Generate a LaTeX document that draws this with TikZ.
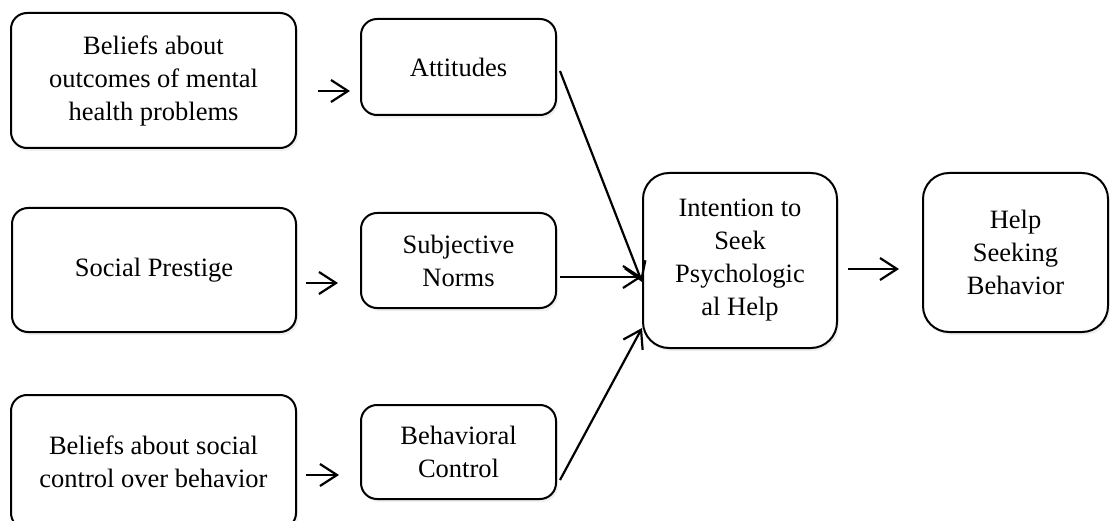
\documentclass[tikz,border=0pt]{standalone}
\usepackage{fontspec}
\setmainfont{Liberation Serif}
\usetikzlibrary{arrows.meta,shadows}
\begin{document}
\begin{tikzpicture}[x=1pt,y=-1pt,
  box/.style={draw=black, line width=2pt, fill=white, align=center,
    inner sep=0pt, font=\fontsize{26.5}{33}\selectfont,
    drop shadow={shadow xshift=2pt, shadow yshift=-3pt, opacity=0.12}},
  smallbox/.style={box, rounded corners=16pt},
  bigbox/.style={box, rounded corners=26pt},
  arr/.style={line width=2.2pt, -{Straight Barb[length=17pt,width=22pt,line width=2.2pt]}}
]
\useasboundingbox (0,0) rectangle (1110,521);

% left column
\node[smallbox, minimum width=285pt, minimum height=135pt] (b1) at (153.5,80.5)
  {Beliefs about\\outcomes of mental\\health problems};
\node[smallbox, minimum width=284pt, minimum height=124pt] (b2) at (154,270)
  {Social Prestige};
\node[smallbox, minimum width=285pt, minimum height=134pt] (b3) at (153.5,462)
  {Beliefs about social\\control over behavior};

% middle column
\node[smallbox, minimum width=195pt, minimum height=96pt] (att) at (458.5,67)
  {Attitudes};
\node[smallbox, minimum width=195pt, minimum height=95pt] (sn) at (458.5,260.5)
  {Subjective\\Norms};
\node[smallbox, minimum width=195pt, minimum height=94pt] (bc) at (458.5,452)
  {Behavioral\\Control};

% right column
\node[bigbox, minimum width=194pt, minimum height=175pt] (int) at (740,260.5)
  {Intention to\\Seek\\Psychologic\\al Help};
\node[bigbox, minimum width=185pt, minimum height=159pt] (help) at (1015.5,252.5)
  {Help\\Seeking\\Behavior};

% short free-standing arrows
\coordinate (a1s) at (318,91);  \coordinate (a1e) at (350,91);
\coordinate (a2s) at (306,283); \coordinate (a2e) at (338,283);
\coordinate (a3s) at (306,475); \coordinate (a3e) at (339,475);
\draw[arr] (a1s) -- (a1e);
\draw[arr] (a2s) -- (a2e);
\draw[arr] (a3s) -- (a3e);

% connectors into the intention box
\draw[arr] ([shift={(3,4)}]att.east) -- ([yshift=-21.5pt]int.west);
\draw[arr] ([shift={(3,16.5)}]sn.east) -- ([yshift=-16.5pt]int.west);
\draw[arr] ([shift={(3,28)}]bc.east) -- ([yshift=-67.5pt]int.west);

% intention to behaviour
\draw[arr] ([shift={(10,8.5)}]int.east) -- ([shift={(-23,16.5)}]help.west);
\end{tikzpicture}
\end{document}
